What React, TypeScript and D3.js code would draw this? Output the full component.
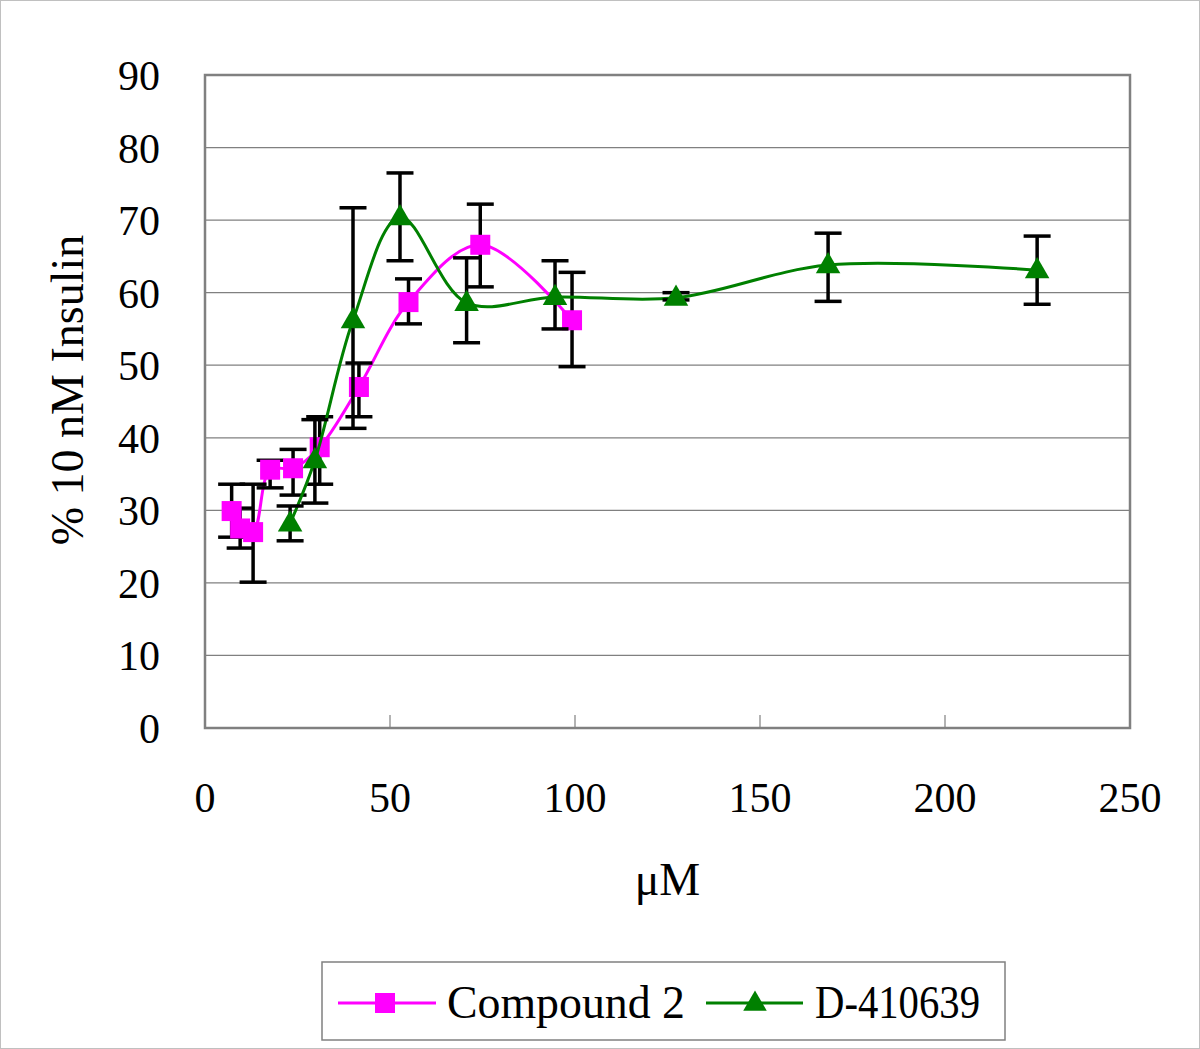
import React from "react";
import * as d3 from "d3";

const c2X = [7.2, 9.5, 13, 17.6, 23.8, 31, 41.6, 55, 74.4, 99.2];
const c2Y = [29.9, 27.5, 27.0, 35.6, 35.8, 38.7, 47.0, 58.7, 66.6, 56.2];
const c2Hi = [33.6, 30.3, 33.6, 36.9, 38.4, 42.9, 50.3, 61.9, 72.2, 62.8];
const c2Lo = [26.3, 24.8, 20.1, 33.1, 32.1, 33.6, 42.9, 55.7, 60.8, 49.8];

const dX = [23, 29.7, 40, 52.7, 70.7, 94.6, 127.3, 168.4, 224.9];
const dY = [28.2, 36.9, 56.2, 70.4, 58.6, 59.4, 59.3, 63.8, 63.1];
const dHi = [30.6, 42.5, 71.7, 76.5, 64.8, 64.4, 60.0, 68.2, 67.8];
const dLo = [25.8, 31.0, 41.3, 64.4, 53.1, 55.0, 59.0, 58.8, 58.4];

const xTicks = [0, 50, 100, 150, 200, 250];
const yTicks = [0, 10, 20, 30, 40, 50, 60, 70, 80, 90];
const seriesNames = ["Compound 2", "D-410639"];

const W = 1200, H = 1049;
const L = 205, R = 1130, T = 75, B = 728;
const MAGENTA = "#FF00FF", GREEN = "#008000";
const FONT = "'Liberation Serif', 'Times New Roman', serif";

export default function App() {
  const x = d3.scaleLinear().domain([0, 250]).range([L, R]);
  const y = d3.scaleLinear().domain([0, 90]).range([B, T]);
  const line = d3.line<[number, number]>()
    .x(d => x(d[0])).y(d => y(d[1]))
    .curve(d3.curveCatmullRom.alpha(0.5));
  const c2 = c2X.map((v, i) => [v, c2Y[i]] as [number, number]);
  const dd = dX.map((v, i) => [v, dY[i]] as [number, number]);
  const tri = d3.symbol().type(d3.symbolTriangle).size(260)();
  const cap = 13.5;
  const errBars = (xs: number[], hi: number[], lo: number[], key: string) =>
    xs.map((v, i) => {
      const cx = x(v);
      return (
        <g key={key + i} stroke="#000" strokeWidth={3.5}>
          <line x1={cx} x2={cx} y1={y(hi[i])} y2={y(lo[i])} />
          <line x1={cx - cap} x2={cx + cap} y1={y(hi[i])} y2={y(hi[i])} />
          <line x1={cx - cap} x2={cx + cap} y1={y(lo[i])} y2={y(lo[i])} />
        </g>
      );
    });
  return (
    <svg width={W} height={H} style={{ position: "absolute", left: 0, top: 0, background: "#fff" }} fontFamily={FONT}>
      <rect x={0.5} y={0.5} width={W - 1} height={H - 1} fill="#fff" stroke="#c0c0c0" />
      {yTicks.filter(t => t > 0 && t < 90).map(t => (
        <line key={"g" + t} x1={L} x2={R} y1={y(t)} y2={y(t)} stroke="#808080" strokeWidth={1.2} />
      ))}
      {xTicks.filter(t => t > 0 && t < 250).map(t => (
        <line key={"xt" + t} x1={x(t)} x2={x(t)} y1={B} y2={B - 13} stroke="#808080" strokeWidth={1.2} />
      ))}
      <rect x={L} y={T} width={R - L} height={B - T} fill="none" stroke="#808080" strokeWidth={2.5} />
      {yTicks.map(t => (
        <text key={"yl" + t} x={160} y={y(t) + 15} textAnchor="end" fontSize={42}>{t}</text>
      ))}
      {xTicks.map(t => (
        <text key={"xl" + t} x={x(t)} y={812} textAnchor="middle" fontSize={42}>{t}</text>
      ))}
      <text x={(L + R) / 2} y={895} textAnchor="middle" fontSize={46}>μM</text>
      <text transform="translate(83,390) rotate(-90)" textAnchor="middle" fontSize={46}>% 10 nM Insulin</text>

      <path d={line(c2) || ""} fill="none" stroke={MAGENTA} strokeWidth={3} />
      {errBars(c2X, c2Hi, c2Lo, "ce")}
      {c2.map((p, i) => (
        <rect key={"cs" + i} x={x(p[0]) - 10} y={y(p[1]) - 10} width={20} height={20} fill={MAGENTA} />
      ))}
      <path d={line(dd) || ""} fill="none" stroke={GREEN} strokeWidth={3} />
      {errBars(dX, dHi, dLo, "de")}
      {dd.map((p, i) => (
        <path key={"dt" + i} d={tri || ""} transform={`translate(${x(p[0])},${y(p[1]) + 1})`} fill={GREEN} />
      ))}

      <rect x={322} y={962} width={683} height={78} fill="#fff" stroke="#808080" strokeWidth={1.5} />
      <line x1={338} x2={436} y1={1003} y2={1003} stroke={MAGENTA} strokeWidth={3} />
      <rect x={375} y={993} width={20} height={20} fill={MAGENTA} />
      <text x={447} y={1018} fontSize={46} textLength={238} lengthAdjust="spacingAndGlyphs">{seriesNames[0]}</text>
      <line x1={706} x2={803} y1={1003} y2={1003} stroke={GREEN} strokeWidth={3} />
      <path d={d3.symbol().type(d3.symbolTriangle).size(240)() || ""} transform="translate(755,1004)" fill={GREEN} />
      <text x={815} y={1018} fontSize={46} textLength={165} lengthAdjust="spacingAndGlyphs">{seriesNames[1]}</text>
    </svg>
  );
}
